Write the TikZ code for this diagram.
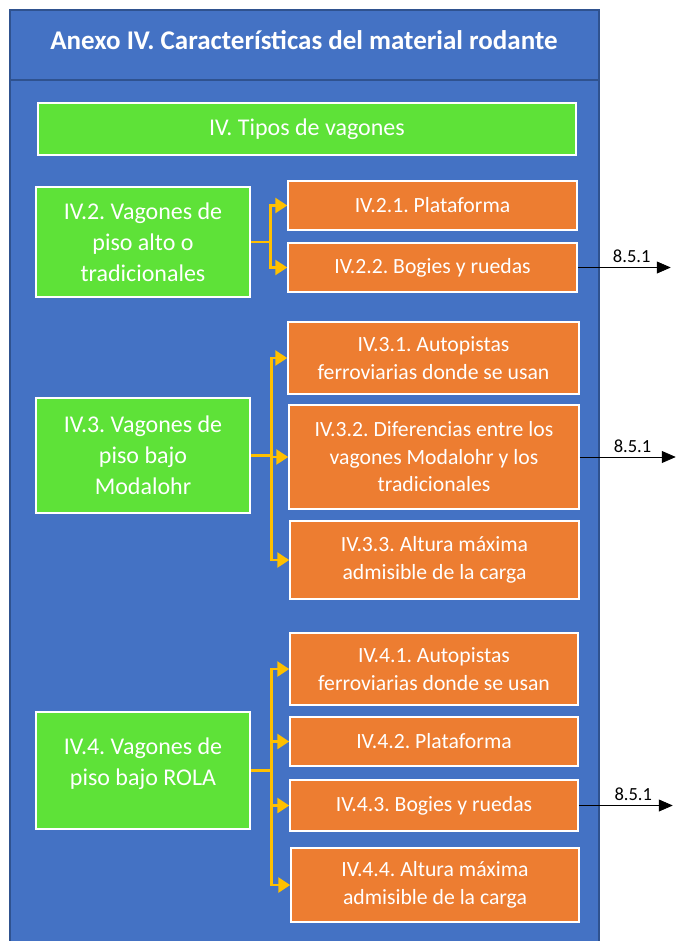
\documentclass[tikz,border=0pt]{standalone}
\usepackage{fontspec}
\setmainfont{Carlito}
\frenchspacing
\usetikzlibrary{arrows.meta,calc}

\definecolor{azul}{HTML}{4472C4}
\definecolor{azulosc}{HTML}{2F528F}
\definecolor{verde}{HTML}{5EE238}
\definecolor{naranja}{HTML}{ED7D31}
\definecolor{amarillo}{HTML}{FFC000}

% box from its top left corner, width and height
\newcommand\mybox[7]{\node[#5, minimum width=#3pt, minimum height=#4pt] (#6) at ({#1+#3/2},{#2+#4/2}) {#7} ; }

\tikzset{
  caja/.style={draw=white, line width=1.5pt, inner sep=0pt, align=center, text=white},
  cverde/.style={caja, fill=verde, font=\fontsize{24}{31}\selectfont},
  cnaranja/.style={caja, fill=naranja, font=\fontsize{21.7}{27.5}\selectfont},
  tronco/.style={draw=amarillo, line width=2.8pt},
  ramal/.style={tronco, -{Triangle[length=12pt, width=15pt]}},
  salida/.style={draw=black, line width=0.8pt, -{Triangle[length=14pt, width=12pt]}},
  etiqueta/.style={above, inner sep=4pt, font=\fontsize{18.5}{20}\selectfont},
}

\begin{document}
\begin{tikzpicture}[x=1pt, y=-1pt]
    \useasboundingbox (0,0) rectangle (683,941);
    % frame and title band
    \fill[azul] (10,10) rectangle (599,960);
    \draw[azulosc, line width=2pt] (10,960) -- (10,10) -- (599,10) -- (599,960);
    \draw[azulosc, line width=2pt] (10,80) -- (599,80);
    \node[text=white, font=\bfseries\fontsize{27}{30}\selectfont] (tit) at (304,40)
        {Anexo IV. Características del material rodante};

    \mybox{38}{103}{538}{52}{cverde}{tipos}{IV. Tipos de vagones}

    % IV.2
    \mybox{36}{187}{214}{110}{cverde}{g2}{IV.2. Vagones de\\piso alto o\\tradicionales}
    \mybox{288}{181}{289}{49}{cnaranja}{o21}{IV.2.1. Plataforma}
    \mybox{288}{243}{289}{49}{cnaranja}{o22}{IV.2.2. Bogies y ruedas}
    \draw[tronco] (g2.east) -- ++(20,0) coordinate (t2);
    \draw[ramal] (t2) |- (o21.west);
    \draw[ramal] (t2) |- (o22.west);
    \draw[salida] (o22.east) -- node[etiqueta, pos=0.58] (l22) {8.5.1} ++(93,0);

    % IV.3
    \mybox{36}{398}{214}{115}{cverde}{g3}{IV.3. Vagones de\\piso bajo\\Modalohr}
    \mybox{288}{322}{291}{72}{cnaranja}{o31}{IV.3.1. Autopistas\\ferroviarias donde se usan}
    \mybox{289}{405}{290}{104}{cnaranja}{o32}{IV.3.2. Diferencias entre los\\vagones Modalohr y los\\tradicionales}
    \mybox{290}{521}{289}{78}{cnaranja}{o33}{IV.3.3. Altura máxima\\admisible de la carga}
    \draw[tronco] (g3.east) -- ++(21,0) coordinate (t3);
    \draw[ramal] (t3) |- (o31.west);
    \draw[ramal] (t3) |- (o32.west);
    \draw[ramal] (t3) |- (o33.west);
    \draw[salida] (o32.east) -- node[etiqueta, pos=0.55] (l32) {8.5.1} ++(96,0);

    % IV.4
    \mybox{36}{712}{214}{117}{cverde}{g4}{IV.4. Vagones de\\piso bajo ROLA\\[-13pt]}
    \mybox{290}{633}{288}{72}{cnaranja}{o41}{IV.4.1. Autopistas\\ferroviarias donde se usan}
    \mybox{290}{717}{288}{49}{cnaranja}{o42}{IV.4.2. Plataforma}
    \mybox{290}{780}{288}{51}{cnaranja}{o43}{IV.4.3. Bogies y ruedas}
    \mybox{291}{848}{288}{74}{cnaranja}{o44}{IV.4.4. Altura máxima\\admisible de la carga}
    \draw[tronco] (g4.east) -- ++(21,0) coordinate (t4);
    \draw[ramal] (t4) |- (o41.west);
    \draw[ramal] (t4) |- (o42.west);
    \draw[ramal] (t4) |- (o43.west);
    \draw[ramal] (t4) |- (o44.west);
    \draw[salida] (o43.east) -- node[etiqueta, pos=0.58] (l43) {8.5.1} ++(94,0);
\end{tikzpicture}
\end{document}
